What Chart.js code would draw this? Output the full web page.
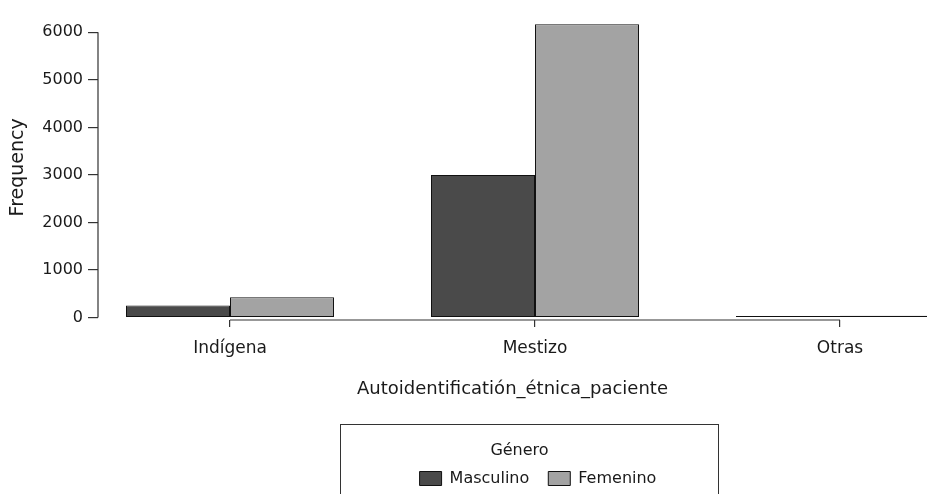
<!DOCTYPE html>
<html>
<head>
<meta charset="utf-8">
<script src="https://cdn.jsdelivr.net/npm/chart.js@4.4.1/dist/chart.umd.min.js"></script>
<style>
    html, body { margin: 0; padding: 0; background: #fff; }
</style>
</head>
<body>
<canvas id="etniaChart" width="927" height="494"></canvas>
<script>
const categories = ['Indígena', 'Mestizo', 'Otras'];
const masculino = [255, 3000, 35];
const femenino = [430, 6170, 40];
const yTicks = [0, 1000, 2000, 3000, 4000, 5000, 6000];

const FONT = 'DejaVu Sans';
const TEXT = '#1a1a1a';

// R-style axis lines (only between first and last tick) plus the framed legend
const frameAxes = {
    id: 'frameAxes',
    afterLayout(chart) {
        const lg = chart.legend;
        if (!lg) return;
        const dx = 538 - (lg.left + lg.right) / 2;
        lg.left += dx;
        lg.right += dx;
        const top = 478.5 - 19 - 8;
        lg.top = top;
        lg.bottom = top + lg.height;
    },
    afterDraw(chart) {
        const { ctx, chartArea, scales } = chart;
        const x = scales.x, y = scales.y;
        ctx.save();
        ctx.strokeStyle = '#333';
        ctx.lineWidth = 1.2;
        ctx.beginPath();
        ctx.moveTo(chartArea.left, y.getPixelForValue(yTicks[0]));
        ctx.lineTo(chartArea.left, y.getPixelForValue(yTicks[yTicks.length - 1]));
        ctx.moveTo(x.getPixelForValue(0), chartArea.bottom);
        ctx.lineTo(x.getPixelForValue(categories.length - 1), chartArea.bottom);
        ctx.stroke();

        ctx.lineWidth = 1;
        ctx.strokeRect(340.5, 424.5, 378, 90);
        ctx.fillStyle = TEXT;
        ctx.font = '16px "' + FONT + '"';
        ctx.textAlign = 'center';
        ctx.textBaseline = 'middle';
        ctx.fillText('Género', 519.5, 451);
        ctx.restore();
    }
};

const ctx = document.getElementById('etniaChart').getContext('2d');
new Chart(ctx, {
    type: 'bar',
    data: {
        labels: categories.map((c, i) => i),
        datasets: [
            {
                label: 'Masculino',
                data: masculino,
                backgroundColor: '#4a4a4a',
                borderColor: '#111',
                borderWidth: 1,
                borderSkipped: false,
                categoryPercentage: 0.682,
                barPercentage: 1
            },
            {
                label: 'Femenino',
                data: femenino,
                backgroundColor: '#a3a3a3',
                borderColor: '#111',
                borderWidth: 1,
                borderSkipped: false,
                categoryPercentage: 0.682,
                barPercentage: 1
            }
        ]
    },
    options: {
        responsive: false,
        animation: false,
        events: [],
        layout: { padding: { top: 5, left: 0, right: 0, bottom: 0 } },
        scales: {
            x: {
                type: 'linear',
                offset: false,
                min: -0.4328,
                max: 2.2852,
                afterBuildTicks: function(s) {
                    s.ticks = categories.map((c, i) => ({ value: i }));
                },
                afterFit: function(s) {
                    const lh = s.chart.legend ? s.chart.legend.height : 45;
                    s.height = 494 - 320 - lh;
                },
                border: { display: false },
                grid: { offset: false, drawOnChartArea: false, tickLength: 7, color: '#333', lineWidth: 1.2 },
                ticks: {
                    autoSkip: false,
                    maxRotation: 0,
                    padding: 11,
                    color: TEXT,
                    font: { family: FONT, size: 17 },
                    callback: function(value) {
                        return categories[value];
                    }
                },
                title: {
                    display: true,
                    text: 'Autoidentificatión_étnica_paciente',
                    color: TEXT,
                    font: { family: FONT, size: 18 },
                    padding: { top: 0, bottom: 49 }
                }
            },
            y: {
                min: -51,
                max: 6373,
                afterBuildTicks: function(s) {
                    s.ticks = yTicks.map(v => ({ value: v }));
                },
                afterFit: function(s) {
                    s.width = 98;
                },
                border: { display: false },
                grid: { drawOnChartArea: false, tickLength: 10, color: '#333', lineWidth: 1.2 },
                ticks: {
                    padding: 5,
                    color: TEXT,
                    font: { family: FONT, size: 16 },
                    callback: function(value) {
                        return String(value);
                    }
                },
                title: {
                    display: true,
                    text: 'Frequency',
                    color: TEXT,
                    font: { family: FONT, size: 19 },
                    padding: { top: 7, bottom: 0 }
                }
            }
        },
        plugins: {
            tooltip: { enabled: false },
            legend: {
                position: 'bottom',
                labels: {
                    color: TEXT,
                    font: { family: FONT, size: 16 },
                    boxWidth: 22,
                    boxHeight: 14,
                    padding: 19
                }
            }
        }
    },
    plugins: [frameAxes]
});
</script>
</body>
</html>
